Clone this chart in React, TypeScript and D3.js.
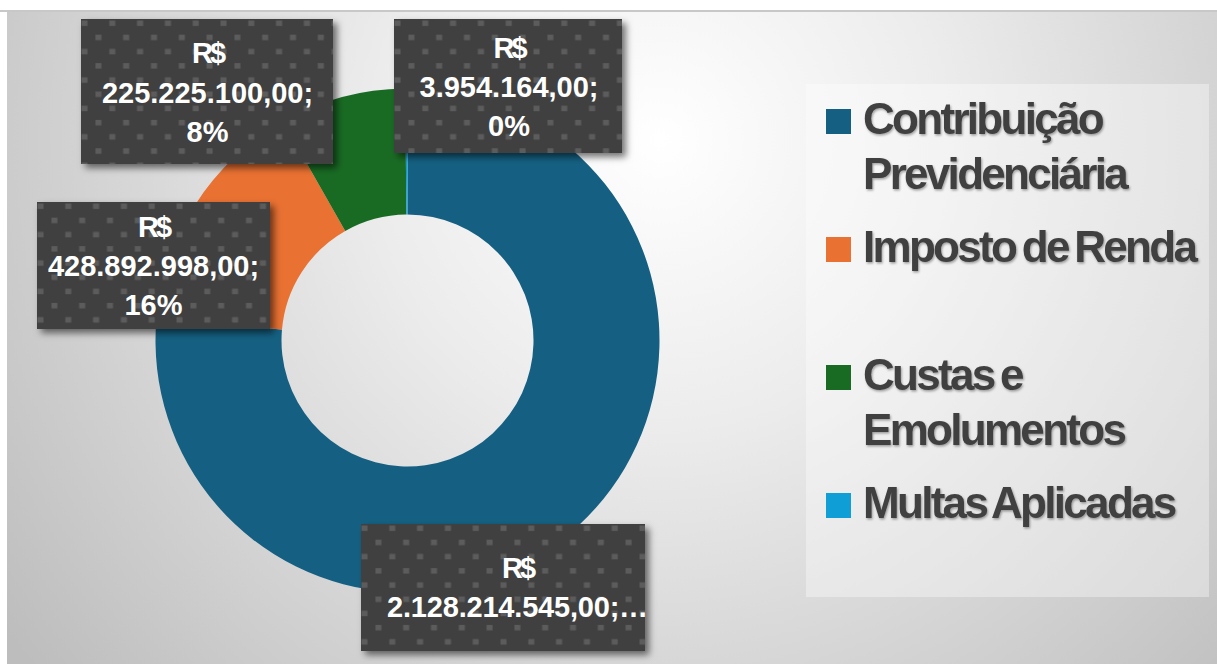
import React from "react";
import * as d3 from "d3";

const categories = ["Contribuição Previdenciária", "Imposto de Renda", "Custas e Emolumentos", "Multas Aplicadas"];
const values = [2128214545, 428892998, 225225100, 3954164];
const percentLabels = ["76%", "16%", "8%", "0%"];
const legendLines = [["Contribuição", "Previdenciária"], ["Imposto de Renda"], ["Custas e", "Emolumentos"], ["Multas Aplicadas"]];
const colors = ["#156082", "#E97132", "#196B24", "#0F9ED5"];

// layout (not data)
const W = 1217, H = 664;
const CX = 407.5, CY = 340.5, R_OUT = 252, R_IN = 126;
const labelBoxes = [
  { x: 361, y: 524, w: 284, h: 127, tx: 517.5, base: 578, truncated: true },
  { x: 37, y: 202, w: 233, h: 127, tx: 153.5, base: 236.7, truncated: false },
  { x: 81, y: 19, w: 252, h: 145, tx: 207.5, base: 63.3, truncated: false },
  { x: 394, y: 19, w: 228, h: 134, tx: 509, base: 57.7, truncated: false },
];
const LINE_H = 39.3;

const locale = d3.formatLocale({ decimal: ",", thousands: ".", grouping: [3], currency: ["R$", ""] });
const fmt = locale.format(",.2f");

export default function App() {
  const pie = d3.pie<number>().sort(null).value((d) => d)(values);
  const arc = d3.arc<d3.PieArcDatum<number>>().innerRadius(R_IN).outerRadius(R_OUT);

  return (
    <svg width={W} height={H} style={{ position: "absolute", left: 0, top: 0, display: "block" }}
      fontFamily="'Liberation Sans', Arial, sans-serif">
      <defs>
        <radialGradient id="bg" gradientUnits="userSpaceOnUse" cx={660} cy={140} r={820}>
          <stop offset="0" stopColor="#ffffff" />
          <stop offset="0.35" stopColor="#ececec" />
          <stop offset="1" stopColor="#bdbdbd" />
        </radialGradient>
        <pattern id="dots" patternUnits="userSpaceOnUse" width={27.8} height={28.4}>
          <rect width={27.8} height={28.4} fill="#404040" />
          <rect x={0.5} y={1.5} width={6} height={5.5} fill="#5c5c5c" />
          <rect x={14.4} y={15.7} width={6} height={5.5} fill="#5c5c5c" />
        </pattern>
        <filter id="shadow" x="-20%" y="-20%" width="150%" height="150%">
          <feDropShadow dx={4} dy={4} stdDeviation={3.5} floodColor="#000" floodOpacity={0.55} />
        </filter>
        <filter id="tshadow" x="-5%" y="-20%" width="110%" height="150%">
          <feDropShadow dx={1} dy={1.5} stdDeviation={0.8} floodColor="#000" floodOpacity={0.35} />
        </filter>
      </defs>
      <rect x={0} y={0} width={W} height={H} fill="#ffffff" />
      <rect x={7} y={12} width={W - 7} height={H - 12} fill="url(#bg)" />
      <line x1={0} x2={W} y1={11} y2={11} stroke="#c8c8c8" strokeWidth={2} />

      <g transform={`translate(${CX},${CY})`}>
        {pie.map((d, i) => (
          <path key={categories[i]} d={arc(d) || ""} fill={colors[i]} />
        ))}
      </g>

      {/* legend */}
      <rect x={806} y={84} width={403} height={513} fill="#ffffff" fillOpacity={0.36} />
      {categories.map((c, i) => {
        const top = 109 + i * 128;
        return (
          <g key={c}>
            <rect x={826} y={top} width={25} height={25} fill={colors[i]} />
            {legendLines[i].map((ln, j) => (
              <text key={j} x={863} y={top + 24.5 + j * 55.5} fontSize={44} fontWeight="bold"
                fill="#404040" letterSpacing={-2.7} wordSpacing={-3} filter="url(#tshadow)">{ln}</text>
            ))}
          </g>
        );
      })}

      {/* data labels */}
      {labelBoxes.map((b, i) => {
        const num = fmt(values[i]) + ";";
        const lines = b.truncated ? ["R$", num + "…"] : ["R$", num, percentLabels[i]];
        return (
          <g key={i}>
            <g transform={`translate(${b.x},${b.y})`}>
              <rect width={b.w} height={b.h} fill="url(#dots)" filter="url(#shadow)" />
            </g>
            {lines.map((ln, j) => (
              <text key={j} x={b.tx} y={b.base + j * LINE_H} textAnchor="middle" fontSize={29}
                fontWeight="bold" fill="#ffffff" letterSpacing={j === 0 ? -3 : (b.truncated ? -0.2 : 0)}>{ln}</text>
            ))}
          </g>
        );
      })}
    </svg>
  );
}
